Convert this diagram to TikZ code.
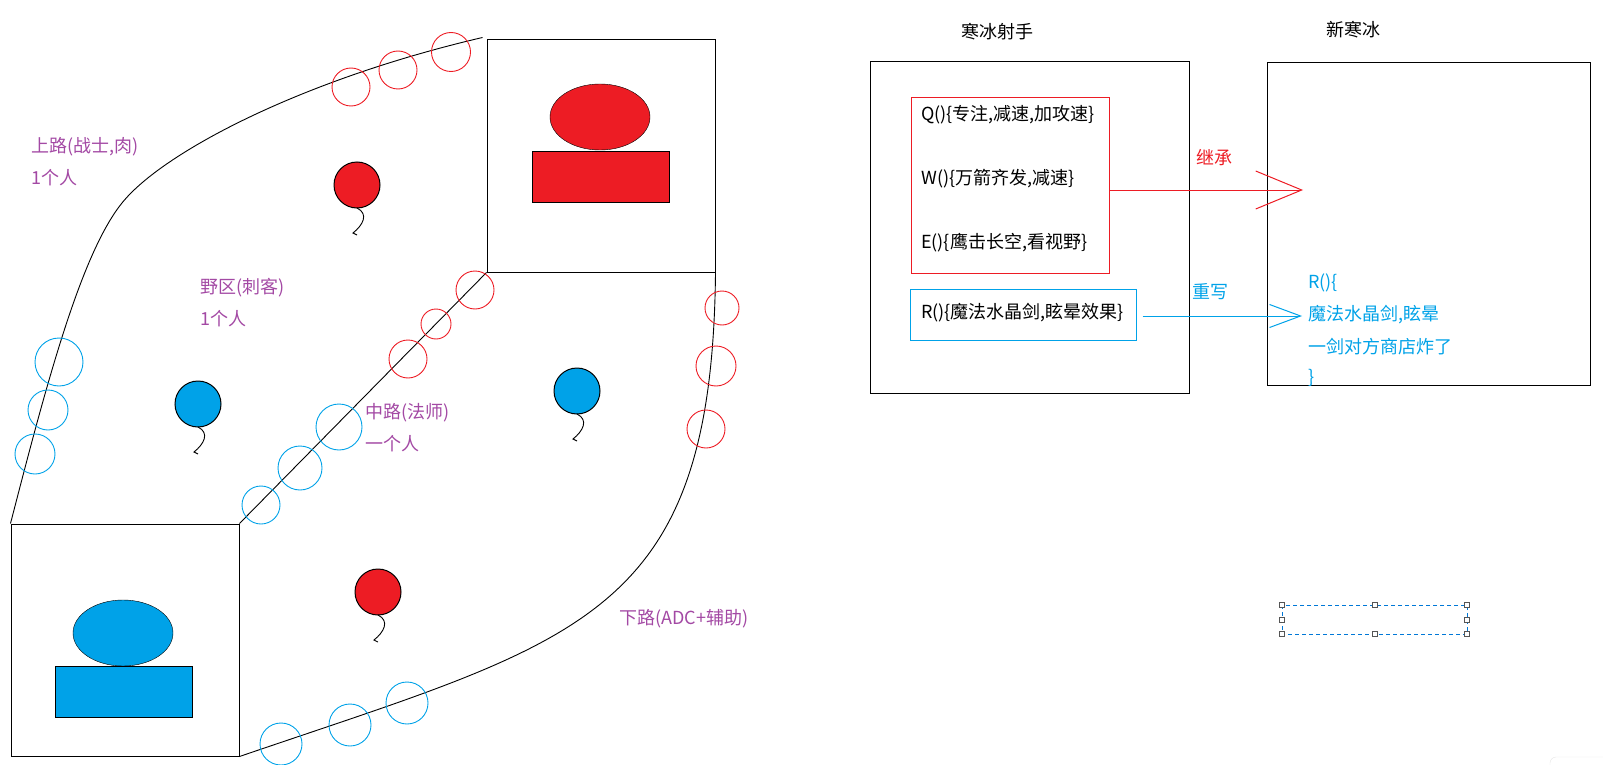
\documentclass[tikz,border=0pt]{standalone}
\usepackage{fontspec}
\setmainfont{Noto Sans CJK SC}
\usetikzlibrary{arrows.meta}
\definecolor{pred}{RGB}{237,28,36}
\definecolor{pblue}{RGB}{0,162,232}
\definecolor{ppurple}{RGB}{163,73,164}
\definecolor{selblue}{RGB}{0,120,215}
\definecolor{hgray}{RGB}{85,85,85}

\begin{document}
\begin{tikzpicture}[x=1pt,y=-1pt,
  every node/.style={font=\fontsize{18}{22}\selectfont, inner sep=0pt},
  base/.style={draw, line width=1pt, minimum width=228pt, minimum height=232pt},
  lane/.style={line width=0.9pt},
  minion/.style={line width=0.9pt},
  lbl/.style={text=ppurple, anchor=west},
  txt/.style={anchor=west},
  box/.style={draw, line width=1pt},
  handle/.style={draw=hgray, fill=white, line width=1pt, minimum size=5pt},
]
\useasboundingbox (0,0) rectangle (1603,765);

% map
\node (bluebase) [base] at (125,640) {};
\node (redbase) [base] at (601,156) {};
\draw[fill=pblue] (123,633) ellipse [x radius=50, y radius=33];
\draw[fill=pblue] (55,666) rectangle (192,717);
\draw[fill=pred] (600,117) ellipse [x radius=50, y radius=33];
\draw[fill=pred] (532,151) rectangle (669,202);

\draw[lane] (bluebase.north west) .. controls (45,390) and (80,255) .. (122,203)
  .. controls (162,153) and (300,80) .. ([shift={(-4pt,2pt)}]redbase.north west);
\draw[lane] (bluebase.north east) -- (redbase.south west);
\draw[lane] (redbase.south east) .. controls (712,620) and (580,640) .. (bluebase.south east);

\foreach \x/\y/\c in {357/185/pred, 198/404/pblue, 577/391/pblue, 378/592/pred}{
  \draw[fill=\c, line width=1pt] (\x,\y) circle [radius=23];
  \draw[line width=0.9pt] (\x,\y+23) .. controls +(12,6) and +(10,-8) .. (\x-4,\y+48) -- (\x,\y+50);
}

\foreach \x/\y/\r in {351/87/19, 398/70/19, 451/52/19.5, 475/290/19, 436/324/15, 408/359/19, 722/308/17, 716/366/20, 706/429/19}
  \draw[minion, pred] (\x,\y) circle [radius=\r];
\foreach \x/\y/\r in {59/362/24, 48/410/20, 35/454/20, 339/427/23, 300/468/22, 261/505/19, 281/744/21, 350/725/21, 407/703/21}
  \draw[minion, pblue] (\x,\y) circle [radius=\r];

\node[lbl] (top) at (31,147) {上路(战士,肉)};
\node[lbl] (top1) at (31,178) {1个人};
\node[lbl] (jungle) at (200,288) {野区(刺客)};
\node[lbl] (jungle1) at (200,319) {1个人};
\node[lbl] (mid) at (365,413) {中路(法师)};
\node[lbl] (mid1) at (365,444) {一个人};
\node[lbl] (bot) at (619,619) {下路(ADC+辅助)};

% classes
\node (t1) at (997,32) {寒冰射手};
\node (t2) at (1353,30) {新寒冰};
\node (ice) [box, minimum width=319pt, minimum height=331pt] at (1029.5,227.5) {};
\node (newice) [box, minimum width=323pt, minimum height=322pt] at (1428.5,224) {};
\node (qwe) [box, draw=pred, minimum width=198pt, minimum height=175pt] at (1010,185.5) {};
\node (rbox) [box, draw=pblue, minimum width=226pt, minimum height=51pt] at (1023,314.5) {};
\node[txt] (q) at (921,115) {Q()\{专注,减速,加攻速\}};
\node[txt] (w) at (921,179) {W()\{万箭齐发,减速\}};
\node[txt] (e) at (921,243) {E()\{鹰击长空,看视野\}};
\node[txt] (r) at (921,313) {R()\{魔法水晶剑,眩晕效果\}};

\coordinate (inhtip) at (1303,190);
\coordinate (rwtip) at (1302,316);
\draw[pred, line width=1pt, -{Straight Barb[length=46pt, width=38pt]}] ([yshift=-4.5pt]qwe.east) -- (inhtip) node[pos=0.54, above=23.5pt]{继承};
\draw[pblue, line width=1pt, shorten <=6pt, -{Straight Barb[length=31pt, width=23pt]}] ([yshift=-1.5pt]rbox.east) -- (rwtip) node[pos=0.45, above=15.5pt]{重写};

\node[txt, text=pblue] (r1) at (1308,283) {R()\{};
\node[txt, text=pblue] (r2) at (1308,315) {魔法水晶剑,眩晕};
\node[txt, text=pblue] (r3) at (1308,347) {一剑对方商店炸了};
\node[txt, text=pblue] (r4) at (1308,378) {\}};

% selection
\draw[selblue, line width=1pt, dash pattern=on 4pt off 3pt] (1282,605) rectangle (1467,634);
\foreach \p [count=\i] in {(1282,605),(1374.5,605),(1467,605),(1282,619.5),(1467,619.5),(1282,634),(1374.5,634),(1467,634)}
  \node[handle] (h\i) at \p {};
\draw[gray!20, rounded corners=6pt] (1550,766) |- (1604,757);
\end{tikzpicture}
\end{document}
